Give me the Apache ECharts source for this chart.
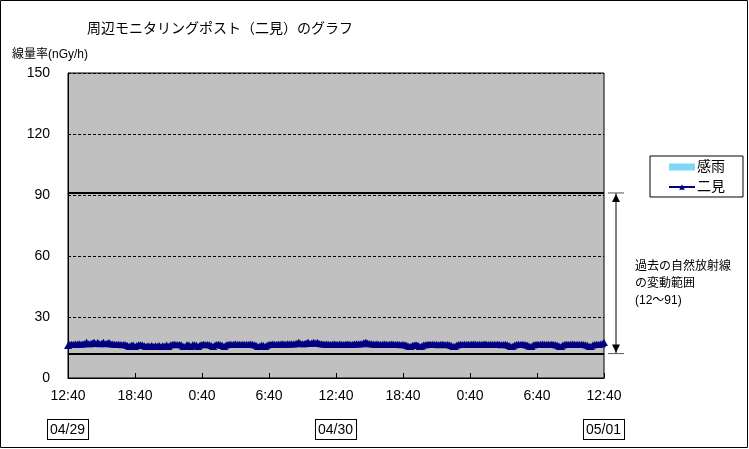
<!DOCTYPE html>
<html>
<head>
<meta charset="utf-8">
<script src="https://cdn.jsdelivr.net/npm/echarts@6/dist/echarts.min.js"></script>
<style>
  html, body { margin: 0; padding: 0; background: #fff; }
  #chart { width: 749px; height: 449px; }
</style>
</head>
<body>
<div id="chart"></div>
<script>
// 10-minute readings, 04/29 12:40 -> 05/01 12:40
var startHour = 12, startMinute = 40, stepMinutes = 10;
var dateLabels = ['04/29', '04/30', '05/01'];
var rainValues = [];   // 感雨: no rain detected in this period
var futamiValues = [
  16.0, 16.5, 16.6, 16.5, 16.7, 16.6, 16.8, 16.6, 16.7, 17.0, 17.6, 16.9, 16.8, 17.2, 17.6, 17.0, 17.5, 16.9, 17.0, 17.6, 16.9, 17.1, 17.5, 16.8,
  16.7, 16.6, 16.5, 16.6, 16.5, 16.4, 16.5, 16.3, 16.0, 15.5, 16.1, 16.2, 15.5, 16.0, 16.3, 16.4, 16.2, 15.9, 15.5, 15.9, 15.6, 16.0, 15.5, 15.9,
  15.6, 16.0, 15.5, 15.9, 15.6, 16.2, 15.5, 16.2, 16.5, 16.6, 16.5, 16.4, 16.5, 16.2, 15.5, 15.6, 16.3, 16.2, 15.5, 16.3, 16.4, 16.1, 15.5, 16.2,
  16.5, 16.6, 16.4, 16.5, 16.3, 16.0, 15.5, 16.2, 16.5, 16.6, 16.3, 16.0, 15.5, 16.2, 16.5, 16.6, 16.5, 16.6, 16.7, 16.5, 16.6, 16.5, 16.6, 16.5,
  16.6, 16.5, 16.7, 16.6, 16.4, 16.1, 15.5, 15.6, 16.2, 16.0, 15.5, 16.1, 16.5, 16.6, 16.7, 16.6, 16.5, 16.7, 16.6, 16.8, 16.7, 16.6, 16.8, 16.7,
  16.8, 16.7, 16.9, 17.1, 17.6, 17.0, 16.8, 16.9, 17.2, 17.6, 17.0, 17.2, 17.6, 17.1, 17.6, 17.0, 16.8, 16.7, 16.6, 16.7, 16.6, 16.5, 16.6, 16.7,
  16.6, 16.5, 16.7, 16.6, 16.5, 16.6, 16.7, 16.6, 16.5, 16.6, 16.7, 16.8, 16.7, 16.8, 16.9, 17.3, 17.6, 17.2, 16.9, 16.8, 16.7, 16.6, 16.7, 16.6,
  16.5, 16.6, 16.7, 16.6, 16.5, 16.6, 16.7, 16.6, 16.5, 16.6, 16.5, 16.4, 16.5, 16.3, 16.1, 15.6, 15.5, 16.0, 16.2, 16.3, 16.1, 15.5, 15.6, 16.2,
  16.4, 16.5, 16.6, 16.5, 16.6, 16.5, 16.6, 16.4, 16.5, 16.6, 16.5, 16.4, 16.5, 16.3, 16.0, 15.5, 15.6, 16.2, 16.5, 16.6, 16.5, 16.6, 16.5, 16.6,
  16.5, 16.6, 16.7, 16.6, 16.5, 16.6, 16.5, 16.6, 16.7, 16.6, 16.5, 16.6, 16.5, 16.6, 16.5, 16.6, 16.5, 16.4, 16.5, 16.6, 16.4, 16.0, 15.5, 15.6,
  16.2, 16.5, 16.6, 16.5, 16.6, 16.5, 16.4, 16.1, 15.6, 15.5, 16.2, 16.5, 16.6, 16.5, 16.6, 16.7, 16.6, 16.5, 16.6, 16.5, 16.6, 16.5, 16.4, 16.1,
  15.6, 15.5, 16.2, 16.5, 16.6, 16.5, 16.6, 16.7, 16.6, 16.5, 16.6, 16.5, 16.6, 16.5, 16.4, 16.1, 15.6, 15.5, 16.2, 16.5, 16.6, 16.5, 16.7, 16.8,
  17.4
];
var rangeLow = 12, rangeHigh = 91;   // 過去の自然放射線の変動範囲

// time labels for every reading
var categories = [];
for (var i = 0; i < futamiValues.length; i++) {
  var m = startHour * 60 + startMinute + i * stepMinutes;
  var h = Math.floor(m / 60) % 24, mm = m % 60;
  categories.push(h + ':' + (mm < 10 ? '0' : '') + mm);
}
var perDay = 24 * 60 / stepMinutes;

var font = "'Liberation Sans', 'Noto Sans CJK JP', sans-serif";
var myChart = echarts.init(document.getElementById('chart'));

var option = {
  backgroundColor: '#fff',
  animation: false,
  textStyle: { fontFamily: font, color: '#000' },
  title: [
    {
      text: '周辺モニタリングポスト（二見）のグラフ',
      left: 82, top: 17,
      textStyle: { fontSize: 14, fontWeight: 'normal', color: '#000', fontFamily: font }
    },
    {
      text: '線量率(nGy/h)',
      left: 7, top: 44,
      textStyle: { fontSize: 12, fontWeight: 'normal', color: '#000', fontFamily: font }
    }
  ],
  legend: {
    orient: 'vertical',
    left: 650, top: 156,
    padding: [4, 18, 3, 18],
    itemGap: 6,
    itemWidth: 26, itemHeight: 7,
    borderColor: '#000', borderWidth: 1, borderRadius: 0,
    backgroundColor: '#fff',
    textStyle: { fontSize: 14, color: '#000', fontFamily: font, padding: [0, 0, 0, -3] },
    data: [{ name: '感雨', icon: 'rect' }, { name: '二見' }]
  },
  grid: {
    left: 68, top: 73, right: 145, bottom: 71,
    show: true, backgroundColor: '#c0c0c0', borderColor: '#000', borderWidth: 1
  },
  xAxis: [
    {
      type: 'category', data: categories, boundaryGap: false,
      axisLine: { lineStyle: { color: '#000', width: 1 } },
      axisTick: { inside: true, length: 5, interval: perDay / 4 - 1, lineStyle: { color: '#000' } },
      axisLabel: { interval: perDay / 4 - 1, fontSize: 14, color: '#000', margin: 11, fontFamily: font },
      splitLine: { show: false }
    },
    {
      type: 'category', data: categories, boundaryGap: false, position: 'bottom',
      axisLine: { show: false }, axisTick: { show: false },
      axisLabel: {
        interval: function (idx) { return idx % perDay === 0; },
        formatter: function (v, idx) { return dateLabels[idx / perDay]; },
        fontSize: 14, color: '#000', margin: 42, fontFamily: font,
        borderColor: '#000', borderWidth: 1, padding: [2, 3, 1, 2], lineHeight: 16,
        backgroundColor: '#fff'
      }
    }
  ],
  yAxis: {
    type: 'value', min: 0, max: 150, interval: 30,
    axisLine: { show: true, lineStyle: { color: '#000' } },
    axisTick: { show: false },
    axisLabel: { fontSize: 14, color: '#000', margin: 18, fontFamily: font },
    splitLine: { lineStyle: { color: '#000', type: [3, 2], width: 1 } }
  },
  series: [
    {
      name: '感雨', type: 'bar', data: rainValues,
      itemStyle: { color: '#7fd6f7' }
    },
    {
      name: '二見', type: 'line', data: futamiValues,
      showAllSymbol: true, symbol: 'triangle', symbolSize: [8, 7],
      itemStyle: { color: '#000080' },
      lineStyle: { color: '#000080', width: 1.5 },
      markLine: {
        silent: true, symbol: ['none', 'none'], label: { show: false },
        lineStyle: { color: '#000', type: 'solid', width: 2 },
        data: [{ yAxis: rangeLow }, { yAxis: rangeHigh }]
      },
      z: 3
    }
  ]
};

myChart.setOption(option);

// range annotation on the right, placed through the y scale
var yHigh = myChart.convertToPixel({ yAxisIndex: 0 }, rangeHigh);
var yLow = myChart.convertToPixel({ yAxisIndex: 0 }, rangeLow);
var ax = 616;
myChart.setOption({
  graphic: [
    { type: 'rect', shape: { x: 0.5, y: 0.5, width: 747, height: 447 }, style: { fill: null, stroke: '#000', lineWidth: 1 } },
    { type: 'line', shape: { x1: ax, y1: yHigh, x2: ax, y2: yLow }, style: { stroke: '#000', lineWidth: 1 } },
    { type: 'line', shape: { x1: 608, y1: yHigh, x2: 624, y2: yHigh }, style: { stroke: '#555', lineWidth: 1 } },
    { type: 'line', shape: { x1: 608, y1: yLow, x2: 624, y2: yLow }, style: { stroke: '#555', lineWidth: 1 } },
    { type: 'polygon', shape: { points: [[ax, yHigh + 1], [ax - 4, yHigh + 9], [ax + 4, yHigh + 9]] }, style: { fill: '#000' } },
    { type: 'polygon', shape: { points: [[ax, yLow - 1], [ax - 4, yLow - 9], [ax + 4, yLow - 9]] }, style: { fill: '#000' } },
    {
      type: 'text', left: 635, top: 258,
      style: {
        text: '過去の自然放射線\nの変動範囲\n(12～91)',
        font: '12px ' + font, fill: '#000', lineHeight: 17
      }
    }
  ]
});
</script>
</body>
</html>
